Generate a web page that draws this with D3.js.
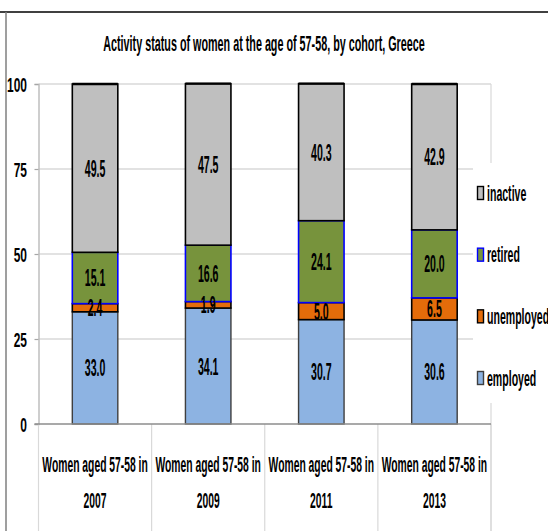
<!DOCTYPE html>
<html>
<head>
<meta charset="utf-8">
<script src="https://cdn.jsdelivr.net/npm/d3@7/dist/d3.min.js"></script>
<style>
  html, body { margin: 0; padding: 0; background: #fff; }
  svg { display: block; }
  text { font-family: "Liberation Sans", Arial, sans-serif; font-weight: bold; fill: #000; }
</style>
</head>
<body>
<svg id="chart" width="548" height="531"></svg>
<script>
// Cohorts and their activity-status shares (%)
const cohorts = ["2007", "2009", "2011", "2013"];
const categoryLine1 = "Women aged 57-58 in";
const employed   = [33.0, 34.1, 30.7, 30.6];
const unemployed = [2.4, 1.9, 5.0, 6.5];
const retired    = [15.1, 16.6, 24.1, 20.0];
const inactive   = [49.5, 47.5, 40.3, 42.9];
const yTicks = [0, 25, 50, 75, 100];
const seriesNames = ["employed", "unemployed", "retired", "inactive"];
const legendOrder = ["inactive", "retired", "unemployed", "employed"];
const title = "Activity status of women at the age of 57-58, by cohort, Greece";

const seriesStyle = {
  employed:   { fill: "#8DB3E2", stroke: "#3F3F3F" },
  unemployed: { fill: "#E46C0A", stroke: "#000000" },
  retired:    { fill: "#77933C", stroke: "#0000FF" },
  inactive:   { fill: "#BFBFBF", stroke: "#000000" }
};

const rows = cohorts.map((c, i) => ({
  cohort: c,
  employed: employed[i],
  unemployed: unemployed[i],
  retired: retired[i],
  inactive: inactive[i]
}));

const svg = d3.select("#chart");
const W = 548, H = 531;
const plot = { left: 38.5, right: 491, top: 84, bottom: 424 };

// Narrow, tall lettering: place text at (x, y) and squeeze it horizontally
function narrowText(parent, str, x, y, size, sx, anchor) {
  return parent.append("text")
    .attr("transform", `translate(${x},${y}) scale(${sx},1)`)
    .attr("text-anchor", anchor || "middle")
    .style("font-size", size + "px")
    .text(str);
}

// Outer chart frame
svg.append("line").attr("x1", 0).attr("x2", W).attr("y1", 12).attr("y2", 12)
  .attr("stroke", "#000").attr("stroke-width", 1.5);
svg.append("line").attr("x1", 6).attr("x2", 6).attr("y1", 12).attr("y2", H)
  .attr("stroke", "#7F7F7F").attr("stroke-width", 1.5);

// Title
narrowText(svg, title, 264, 51, 22, 0.49);

const x = d3.scaleBand().domain(cohorts).range([plot.left, plot.right]);
const barW = 45.5;
const y = d3.scaleLinear().domain([0, 100]).range([plot.bottom, plot.top]);

// Horizontal gridlines
svg.append("g").selectAll("line").data(yTicks.filter(t => t > 0)).join("line")
  .attr("x1", plot.left).attr("x2", plot.right)
  .attr("y1", d => y(d)).attr("y2", d => y(d))
  .attr("stroke", "#D9D9D9").attr("stroke-width", 1.5);

// Right edge of the plot area
svg.append("line").attr("x1", plot.right).attr("x2", plot.right)
  .attr("y1", plot.top).attr("y2", H).attr("stroke", "#D9D9D9").attr("stroke-width", 1.2);

// Y axis (tick labels drawn narrow below)
const yAxis = svg.append("g").attr("transform", `translate(${plot.left},0)`)
  .call(d3.axisLeft(y).tickValues(yTicks).tickSize(4).tickFormat(""));
yAxis.select(".domain").attr("stroke", "#BFBFBF").attr("stroke-width", 1.5);
yAxis.selectAll(".tick line").attr("stroke", "#A6A6A6").attr("stroke-width", 1.2);
const gTicks = svg.append("g");
yTicks.forEach(t => narrowText(gTicks, String(t), 27, y(t) + 7.5, 21, 0.57, "end"));

// Category separators down through the label area
const seps = cohorts.map(c => x(c)).concat([plot.right]);
svg.append("g").selectAll("line").data(seps).join("line")
  .attr("x1", d => d).attr("x2", d => d).attr("y1", plot.bottom).attr("y2", H)
  .attr("stroke", "#D9D9D9").attr("stroke-width", 1.2);

// Stacked bars
const layers = d3.stack().keys(seriesNames)(rows);
const barX = d => x(d.data.cohort) + (x.bandwidth() - barW) / 2;

const gBars = svg.append("g");
layers.forEach(layer => {
  const st = seriesStyle[layer.key];
  gBars.append("g").selectAll("rect").data(layer).join("rect")
    .attr("x", barX)
    .attr("width", barW)
    .attr("y", d => y(d[1]))
    .attr("height", d => y(d[0]) - y(d[1]))
    .attr("fill", st.fill)
    .attr("stroke", st.stroke)
    .attr("stroke-width", layer.key === "employed" ? 1.4 : 1.6);
});

// Heavier top edge on each bar
svg.append("g").selectAll("line").data(layers[3]).join("line")
  .attr("x1", barX)
  .attr("x2", d => barX(d) + barW)
  .attr("y1", d => y(d[1])).attr("y2", d => y(d[1]))
  .attr("stroke", "#000").attr("stroke-width", 2.4);

// X axis baseline
svg.append("line").attr("x1", plot.left - 4).attr("x2", plot.right)
  .attr("y1", plot.bottom).attr("y2", plot.bottom)
  .attr("stroke", "#8C8C8C").attr("stroke-width", 1.5);

// Value labels centred in each segment
const gLabels = svg.append("g");
layers.forEach(layer => {
  layer.forEach(d => {
    const cx = x(d.data.cohort) + x.bandwidth() / 2;
    const cy = (y(d[0]) + y(d[1])) / 2 + 8.5;
    narrowText(gLabels, d3.format(".1f")(d[1] - d[0]), cx, cy, 23, 0.46);
  });
});

// Category labels (two lines)
const gCat = svg.append("g");
cohorts.forEach(c => {
  const cx = x(c) + x.bandwidth() / 2;
  narrowText(gCat, categoryLine1, cx, 472, 22, 0.47);
  narrowText(gCat, c, cx, 508, 22, 0.47);
});

// Legend (white panel over the right edge of the plot)
const legend = svg.append("g");
legend.append("rect").attr("x", 473).attr("y", 163).attr("width", W - 473).attr("height", 240).attr("fill", "#fff");
const legendY = d3.scalePoint().domain(legendOrder).range([193, 378]);
legendOrder.forEach(k => {
  const st = seriesStyle[k];
  legend.append("rect").attr("x", 477.5).attr("y", legendY(k) - 6.5).attr("width", 6).attr("height", 13)
    .attr("fill", st.fill).attr("stroke", st.stroke).attr("stroke-width", 1.4);
  narrowText(legend, k, 487, legendY(k) + 7.5, 22, 0.48, "start");
});
</script>
</body>
</html>
